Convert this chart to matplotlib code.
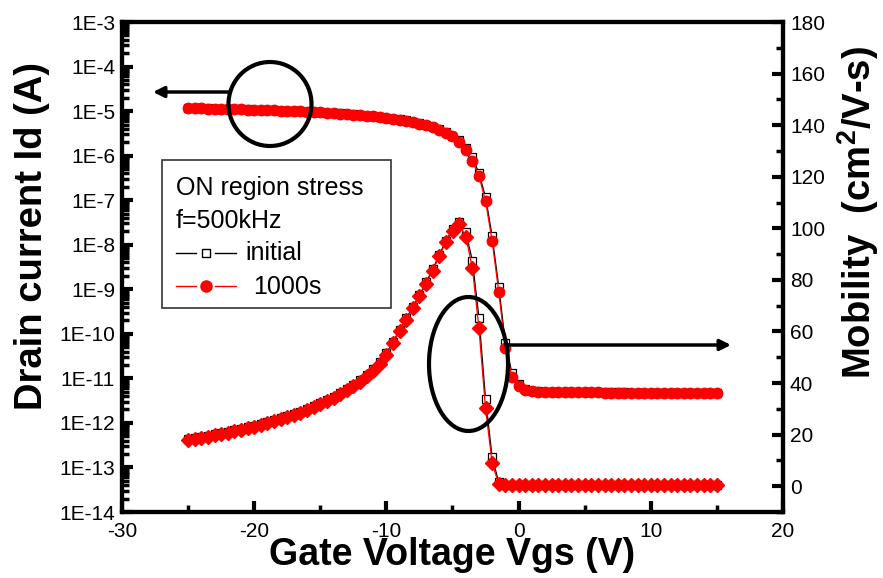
import numpy as np
import matplotlib
matplotlib.use("Agg")
import matplotlib.pyplot as plt
from matplotlib.patches import Ellipse, Rectangle, FancyArrowPatch
from matplotlib.lines import Line2D
from matplotlib.ticker import MultipleLocator, LogLocator, FixedLocator, FuncFormatter, NullFormatter

plt.rcParams['font.family'] = ['Liberation Sans', 'DejaVu Sans']
plt.rcParams['axes.unicode_minus'] = False
plt.rcParams['mathtext.fontset'] = 'custom'
plt.rcParams['mathtext.rm'] = 'Liberation Sans'
plt.rcParams['mathtext.bf'] = 'Liberation Sans:bold'

vgs = [-25.0, -24.5, -24.0, -23.5, -23.0, -22.5, -22.0, -21.5, -21.0, -20.5,
       -20.0, -19.5, -19.0, -18.5, -18.0, -17.5, -17.0, -16.5, -16.0, -15.5,
       -15.0, -14.5, -14.0, -13.5, -13.0, -12.5, -12.0, -11.5, -11.0, -10.5,
       -10.0, -9.5, -9.0, -8.5, -8.0, -7.5, -7.0, -6.5, -6.0, -5.5,
       -5.0, -4.5, -4.0, -3.5, -3.0, -2.5, -2.0, -1.5, -1.0, -0.5,
       0.0, 0.5, 1.0, 1.5, 2.0, 2.5, 3.0, 3.5, 4.0, 4.5,
       5.0, 5.5, 6.0, 6.5, 7.0, 7.5, 8.0, 8.5, 9.0, 9.5,
       10.0, 10.5, 11.0, 11.5, 12.0, 12.5, 13.0, 13.5, 14.0, 14.5, 15.0]

id_initial = [1.18e-5, 1.17e-5, 1.16e-5, 1.15e-5, 1.14e-5, 1.13e-5, 1.12e-5, 1.11e-5, 1.10e-5, 1.09e-5,
              1.08e-5, 1.07e-5, 1.06e-5, 1.05e-5, 1.03e-5, 1.02e-5, 1.005e-5, 9.9e-6, 9.7e-6, 9.55e-6,
              9.4e-6, 9.2e-6, 9.05e-6, 8.85e-6, 8.65e-6, 8.45e-6, 8.2e-6, 7.95e-6, 7.7e-6, 7.4e-6,
              7.1e-6, 6.8e-6, 6.5e-6, 6.15e-6, 5.8e-6, 5.35e-6, 4.85e-6, 4.4e-6, 3.9e-6, 3.4e-6,
              2.8e-6, 2.2e-6, 1.5e-6, 9.3e-7, 4.0e-7, 1.17e-7, 1.55e-8, 1.12e-9, 6.2e-11, 1.3e-11,
              7.5e-12, 5.8e-12, 5.3e-12, 5.1e-12, 5.0e-12, 4.95e-12, 4.95e-12, 4.9e-12, 4.9e-12, 4.9e-12,
              4.9e-12, 4.9e-12, 4.85e-12, 4.85e-12, 4.85e-12, 4.85e-12, 4.85e-12, 4.8e-12, 4.8e-12, 4.8e-12,
              4.8e-12, 4.8e-12, 4.8e-12, 4.8e-12, 4.75e-12, 4.75e-12, 4.75e-12, 4.75e-12, 4.75e-12, 4.75e-12, 4.75e-12]

id_1000s = [1.17e-5, 1.16e-5, 1.15e-5, 1.14e-5, 1.13e-5, 1.12e-5, 1.11e-5, 1.10e-5, 1.09e-5, 1.08e-5,
            1.07e-5, 1.06e-5, 1.05e-5, 1.04e-5, 1.02e-5, 1.01e-5, 9.95e-6, 9.8e-6, 9.6e-6, 9.45e-6,
            9.3e-6, 9.1e-6, 8.95e-6, 8.75e-6, 8.55e-6, 8.35e-6, 8.1e-6, 7.85e-6, 7.6e-6, 7.3e-6,
            7.0e-6, 6.7e-6, 6.4e-6, 6.05e-6, 5.7e-6, 5.25e-6, 4.75e-6, 4.3e-6, 3.8e-6, 3.3e-6,
            2.7e-6, 2.05e-6, 1.35e-6, 7.6e-7, 3.5e-7, 9.5e-8, 1.2e-8, 8.7e-10, 4.7e-11, 1.1e-11,
            6.9e-12, 5.6e-12, 5.2e-12, 5.05e-12, 4.95e-12, 4.9e-12, 4.9e-12, 4.9e-12, 4.9e-12, 4.85e-12,
            4.85e-12, 4.85e-12, 4.85e-12, 4.8e-12, 4.8e-12, 4.8e-12, 4.8e-12, 4.8e-12, 4.8e-12, 4.75e-12,
            4.75e-12, 4.75e-12, 4.75e-12, 4.75e-12, 4.75e-12, 4.7e-12, 4.7e-12, 4.7e-12, 4.7e-12, 4.7e-12, 4.7e-12]

mob_initial = [18.3, 18.7, 19.1, 19.6, 20.1, 20.6, 21.1, 21.7, 22.3, 22.9,
               23.5, 24.2, 24.9, 25.6, 26.4, 27.2, 28.0, 28.9, 29.9, 31.0,
               32.2, 33.4, 34.7, 36.1, 37.6, 39.2, 41.0, 43.0, 45.3, 48.0,
               51.5, 56.0, 60.7, 65.1, 69.5, 74.1, 79.1, 84.1, 89.7, 95.1,
               99.6, 102.3, 98.7, 87.5, 65.4, 33.7, 11.2, 1.5, 0.4, 0.3,
               0.3, 0.3, 0.3, 0.3, 0.3, 0.3, 0.3, 0.3, 0.3, 0.3,
               0.3, 0.3, 0.3, 0.3, 0.3, 0.3, 0.3, 0.3, 0.3, 0.3,
               0.3, 0.3, 0.3, 0.3, 0.3, 0.3, 0.3, 0.3, 0.3, 0.3, 0.3]

mob_1000s = [17.9, 18.3, 18.7, 19.2, 19.7, 20.2, 20.7, 21.3, 21.9, 22.5,
             23.1, 23.8, 24.5, 25.2, 26.0, 26.8, 27.6, 28.5, 29.5, 30.6,
             31.8, 33.0, 34.3, 35.7, 37.2, 38.8, 40.6, 42.6, 44.8, 47.5,
             51.0, 55.5, 60.2, 64.6, 69.0, 73.6, 78.6, 83.6, 89.2, 94.6,
             99.0, 101.5, 96.8, 84.8, 61.2, 30.2, 8.9, 0.8, 0.3, 0.3,
             0.3, 0.3, 0.3, 0.3, 0.3, 0.3, 0.3, 0.3, 0.3, 0.3,
             0.3, 0.3, 0.3, 0.3, 0.3, 0.3, 0.3, 0.3, 0.3, 0.3,
             0.3, 0.3, 0.3, 0.3, 0.3, 0.3, 0.3, 0.3, 0.3, 0.3, 0.3]

x_ticks = [-30, -20, -10, 0, 10, 20]
left_ticks = [1e-3, 1e-4, 1e-5, 1e-6, 1e-7, 1e-8, 1e-9, 1e-10, 1e-11, 1e-12, 1e-13, 1e-14]
right_ticks = [0, 20, 40, 60, 80, 100, 120, 140, 160, 180]

W, H = 883, 578
fig = plt.figure(figsize=(W / 100, H / 100), dpi=100)
L, R, T, B = 122, 783, 22, 512
ax = fig.add_axes([L / W, 1 - B / H, (R - L) / W, (B - T) / H])
ax2 = ax.twinx()

# Id curves (left axis, log)
ax.plot(vgs, id_initial, color='black', lw=0.9, marker='s', ms=5.5, mfc='white',
        mec='black', mew=0.9, zorder=3)
ax.plot(vgs, id_1000s, color='red', lw=0.9, marker='o', ms=7.5, mfc='red',
        mec='red', zorder=4)
ax.set_yscale('log')
ax.set_ylim(1e-14, 1e-3)
ax.set_xlim(-30, 20)

# Mobility curves (right axis)
ax2.plot(vgs, mob_initial, color='black', lw=0.9, marker='s', ms=5.5, mfc='white',
         mec='black', mew=0.9, zorder=3)
ax2.plot(vgs, mob_1000s, color='red', lw=0.9, marker='D', ms=7.5, mfc='red',
         mec='red', zorder=4)
ax2.set_ylim(-10, 180)

# ticks
ax.xaxis.set_major_locator(FixedLocator(x_ticks))
ax.xaxis.set_minor_locator(MultipleLocator(5))
ax.yaxis.set_major_locator(FixedLocator(left_ticks))
ax.yaxis.set_minor_locator(LogLocator(base=10, subs=np.arange(2, 10), numticks=50))
ax.yaxis.set_minor_formatter(NullFormatter())
ax.yaxis.set_major_formatter(FuncFormatter(lambda v, p: "1E%d" % int(round(np.log10(v)))))
ax2.yaxis.set_major_locator(FixedLocator(right_ticks))
ax2.yaxis.set_minor_locator(MultipleLocator(10))

for a in (ax, ax2):
    for s in a.spines.values():
        s.set_linewidth(3)
    a.tick_params(which='major', direction='in', length=8, width=3, labelsize=15, pad=5)
    a.tick_params(which='minor', direction='in', length=5, width=2.5)
ax.tick_params(axis='y', which='both', right=False)
ax.tick_params(axis='x', which='both', top=False, pad=7)
ax2.tick_params(axis='y', which='both', left=False, right=True)

ax.set_xlabel('Gate Voltage Vgs (V)', fontsize=27, fontweight='bold')
ax.xaxis.set_label_coords(0.499, (512 - 555) / 490)
ax.xaxis.label.set_va('center')
ax.set_ylabel('Drain current Id (A)', fontsize=27.5, fontweight='bold')
ax.yaxis.set_label_coords((32 - 122) / 661, (512 - 236) / 490)
ax.yaxis.label.set_va('center')
ax2.set_ylabel('Mobility  (cm$^{\\mathbf{2}}$/V-s)', fontsize=27.5, fontweight='bold')
ax2.yaxis.set_label_coords((858 - 122) / 661, (512 - 213) / 490)
ax2.yaxis.label.set_va('center')

# annotations (in pixel coordinates of the figure)
def fx(x):
    return x / W

def fy(y):
    return 1 - y / H

fig.patches.append(Ellipse((fx(270), fy(104)), 83 / W, 84 / H, transform=fig.transFigure,
                           fill=False, lw=3, ec='black', zorder=10))
fig.patches.append(Ellipse((fx(468.5), fy(364)), 79 / W, 134 / H, transform=fig.transFigure,
                           fill=False, lw=3, ec='black', zorder=10))
fig.add_artist(FancyArrowPatch((fx(229), fy(92)), (fx(153), fy(92)),
               transform=fig.transFigure, arrowstyle='-|>', mutation_scale=16, lw=2.5,
               color='black', shrinkA=0, shrinkB=0))
fig.add_artist(FancyArrowPatch((fx(506), fy(345)), (fx(731), fy(345)),
               transform=fig.transFigure, arrowstyle='-|>', mutation_scale=16, lw=2.5,
               color='black', shrinkA=0, shrinkB=0))

# legend box (manual)
fig.patches.append(Rectangle((fx(162), fy(308)), (391 - 162) / W, (308 - 160) / H,
                             transform=fig.transFigure, fill=True, fc='white', ec='#333333',
                             lw=1.2, zorder=11))
fs = 18
fig.text(fx(176), fy(188), 'ON region stress', fontsize=fs, va='center', ha='left', zorder=12)
fig.text(fx(176), fy(221), 'f=500kHz', fontsize=fs, va='center', ha='left', zorder=12)
fig.text(fx(245), fy(253), 'initial', fontsize=fs, va='center', ha='left', zorder=12)
fig.text(fx(253), fy(287), '1000s', fontsize=fs, va='center', ha='left', zorder=12)
for y0, col, mk in ((253, 'black', 's'), (286, 'red', 'o')):
    fig.add_artist(Line2D([fx(176), fx(196)], [fy(y0), fy(y0)], color=col, lw=1, zorder=12))
    fig.add_artist(Line2D([fx(215), fx(236)], [fy(y0), fy(y0)], color=col, lw=1, zorder=12))
    if mk == 's':
        fig.add_artist(Line2D([fx(205.5)], [fy(y0)], marker='s', ms=6, mfc='white',
                              mec='black', mew=1, zorder=12))
    else:
        fig.add_artist(Line2D([fx(205.5)], [fy(y0)], marker='o', ms=8, mfc='red',
                              mec='red', zorder=12))

fig.savefig('out.png', dpi=100)
